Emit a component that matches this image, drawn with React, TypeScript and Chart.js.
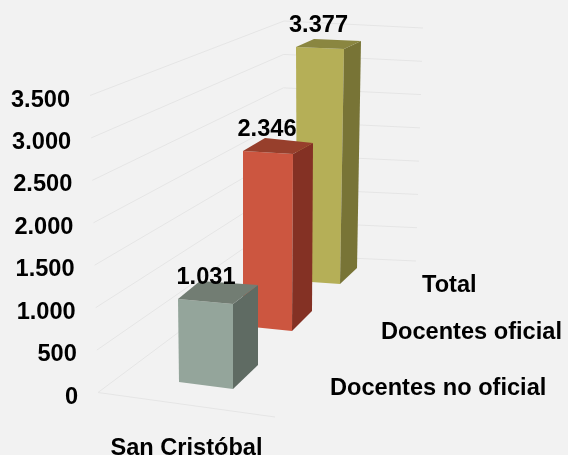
import React, { useEffect, useRef } from "react";
import { Chart, registerables } from "chart.js";

Chart.register(...registerables);

const categories = ["San Cristóbal"];
const seriesNames = ["Docentes no oficial", "Docentes oficial", "Total"];
const seriesValues = [1031, 2346, 3377];
const axisTicks = [0, 500, 1000, 1500, 2000, 2500, 3000, 3500];

const W = 568;
const H = 455;
const AREA = { left: 98, right: 275, top: 98, bottom: 395 };
const FONT = '"Liberation Sans", Arial, sans-serif';
const FONT_SIZE = 23.6;
const TEXT_DY = 2;

const frontColors = ["#94a59b", "#cc5640", "#b5af57"];
const sideColors = ["#5f6b63", "#843124", "#787436"];
const topColors = ["#727d73", "#973f2c", "#8a8640"];

// Perspective: where each series' front-left edge sits, and footprints relative to it.
const views = [
  {
    frontX: 178, baseY: 382, topY: 299, labelDx: 28,
    top: { fr: [55, 5], br: [80, -14], bl: [22, -18] },
    bottom: { fl: [1, 0], fr: [55, 7], br: [80, -17] },
    nameX: 330, nameY: 386,
  },
  {
    frontX: 243, baseY: 326, topY: 151, labelDx: 24,
    top: { fr: [50, 3], br: [70, -8], bl: [22, -13] },
    bottom: { fl: [0, 0], fr: [49, 5], br: [69, -15] },
    nameX: 381, nameY: 330,
  },
  {
    frontX: 296, baseY: 281, topY: 47, labelDx: 22.5,
    top: { fr: [48, 2], br: [65, -6], bl: [18, -8] },
    bottom: { fl: [1, 0], fr: [44, 3], br: [61, -13] },
    nameX: 422, nameY: 283,
  },
];

const fmt = (v: number) => String(Math.round(v)).replace(/\B(?=(\d{3})+$)/g, ".");

const lerp = (a: number, b: number, t: number) => a + (b - a) * t;

const quad = (ctx: CanvasRenderingContext2D, pts: number[][], fill: string) => {
  ctx.beginPath();
  pts.forEach(([x, y], i) => (i ? ctx.lineTo(x, y) : ctx.moveTo(x, y)));
  ctx.closePath();
  ctx.fillStyle = fill;
  ctx.fill();
};

const walls = {
  id: "walls",
  beforeDatasetsDraw(chart: any) {
    const { ctx, scales } = chart;
    const y = scales.y;
    ctx.save();
    ctx.strokeStyle = "#e5e5e5";
    ctx.lineWidth = 1;
    const maxV = y.max;
    axisTicks.forEach((v) => {
      const t = v / maxV;
      const py = y.getPixelForValue(v) - 2.5;
      ctx.beginPath();
      ctx.moveTo(lerp(98, 90, t), py);
      ctx.lineTo(lerp(282, 284, t), lerp(255, 21, t));
      ctx.lineTo(lerp(416, 423, t), lerp(261, 28, t));
      ctx.stroke();
    });
    const p0 = y.getPixelForValue(0) - 2.5;
    ctx.beginPath();
    ctx.moveTo(98, p0);
    ctx.lineTo(275, 417);
    ctx.stroke();
    ctx.restore();
  },
};

const bars3d = {
  id: "bars3d",
  afterDatasetsDraw(chart: any) {
    const { ctx } = chart;
    ctx.save();
    for (let i = seriesValues.length - 1; i >= 0; i--) {
      const el = chart.getDatasetMeta(i).data[0];
      const view = views[i];
      const tx = el.x, ty = el.y, bx = el.x, by = el.base;
      const T = (p: number[]) => [tx + p[0], ty + p[1]];
      const B = (p: number[]) => [bx + p[0], by + p[1]];
      const fl = [tx, ty];
      quad(ctx, [fl, T(view.top.fr), B(view.bottom.fr), B(view.bottom.fl)], frontColors[i]);
      quad(ctx, [T(view.top.fr), T(view.top.br), B(view.bottom.br), B(view.bottom.fr)], sideColors[i]);
      quad(ctx, [fl, T(view.top.bl), T(view.top.br), T(view.top.fr)], topColors[i]);
    }
    ctx.fillStyle = "#000";
    ctx.font = `bold ${FONT_SIZE}px ${FONT}`;
    ctx.textBaseline = "middle";
    ctx.textAlign = "center";
    seriesValues.forEach((v, i) => {
      const el = chart.getDatasetMeta(i).data[0];
      ctx.fillText(fmt(v), el.x + views[i].labelDx, el.y - 24 + TEXT_DY);
    });
    ctx.textAlign = "left";
    seriesNames.forEach((n, i) => ctx.fillText(n, views[i].nameX, views[i].nameY + TEXT_DY));
    ctx.textAlign = "right";
    const y = chart.scales.y;
    y.ticks.forEach((tick: any) => {
      const t = tick.value / y.max;
      ctx.fillText(tick.label, lerp(78, 70, t), y.getPixelForValue(tick.value) + TEXT_DY);
    });
    ctx.restore();
  },
};

export default function App() {
  const ref = useRef<HTMLCanvasElement>(null);
  useEffect(() => {
    const scales: any = {
      x: {
        type: "category",
        offset: true,
        grid: { display: false },
        border: { display: false },
        ticks: { color: "#000", font: { family: FONT, size: FONT_SIZE, weight: "bold" }, padding: 31, maxRotation: 0 },
        afterFit: (s: any) => { s.height = H - AREA.bottom; },
      },
      y: {
        min: 0,
        max: 3500,
        afterBuildTicks: (s: any) => { s.ticks = axisTicks.map((value) => ({ value })); },
        grid: { display: false },
        border: { display: false },
        ticks: { display: false, callback: (v: any) => fmt(Number(v)) },
        afterFit: (s: any) => { s.width = AREA.left; },
      },
    };
    views.forEach((view, i) => {
      const span = AREA.right - AREA.left;
      const xMin = -(view.frontX - AREA.left) / span;
      scales[`x${i}`] = { type: "linear", display: false, offset: false, min: xMin, max: xMin + 1 };
      const k = (view.baseY - view.topY) / seriesValues[i];
      scales[`y${i}`] = {
        type: "linear",
        display: false,
        min: -(AREA.bottom - view.baseY) / k,
        max: (view.baseY - AREA.top) / k,
      };
    });
    const chart = new Chart(ref.current as HTMLCanvasElement, {
      type: "bar",
      data: {
        labels: categories,
        datasets: seriesNames.map((label, i) => ({
          label,
          data: [{ x: 0, y: seriesValues[i] }],
          xAxisID: `x${i}`,
          yAxisID: `y${i}`,
          backgroundColor: "rgba(0,0,0,0)",
          borderWidth: 0,
          grouped: false,
          barThickness: 1,
        })),
      } as any,
      options: {
        responsive: false,
        animation: false,
        layout: { padding: { left: 0, top: AREA.top, right: W - AREA.right, bottom: 0 } },
        plugins: { legend: { display: false }, tooltip: { enabled: false }, title: { display: false } },
        scales,
      } as any,
      plugins: [walls, bars3d],
    });
    return () => chart.destroy();
  }, []);
  return (
    <div style={{ position: "fixed", left: 0, top: 0, width: W, height: H, background: "#f2f2f2" }}>
      <canvas ref={ref} width={W} height={H} style={{ display: "block" }} />
    </div>
  );
}
